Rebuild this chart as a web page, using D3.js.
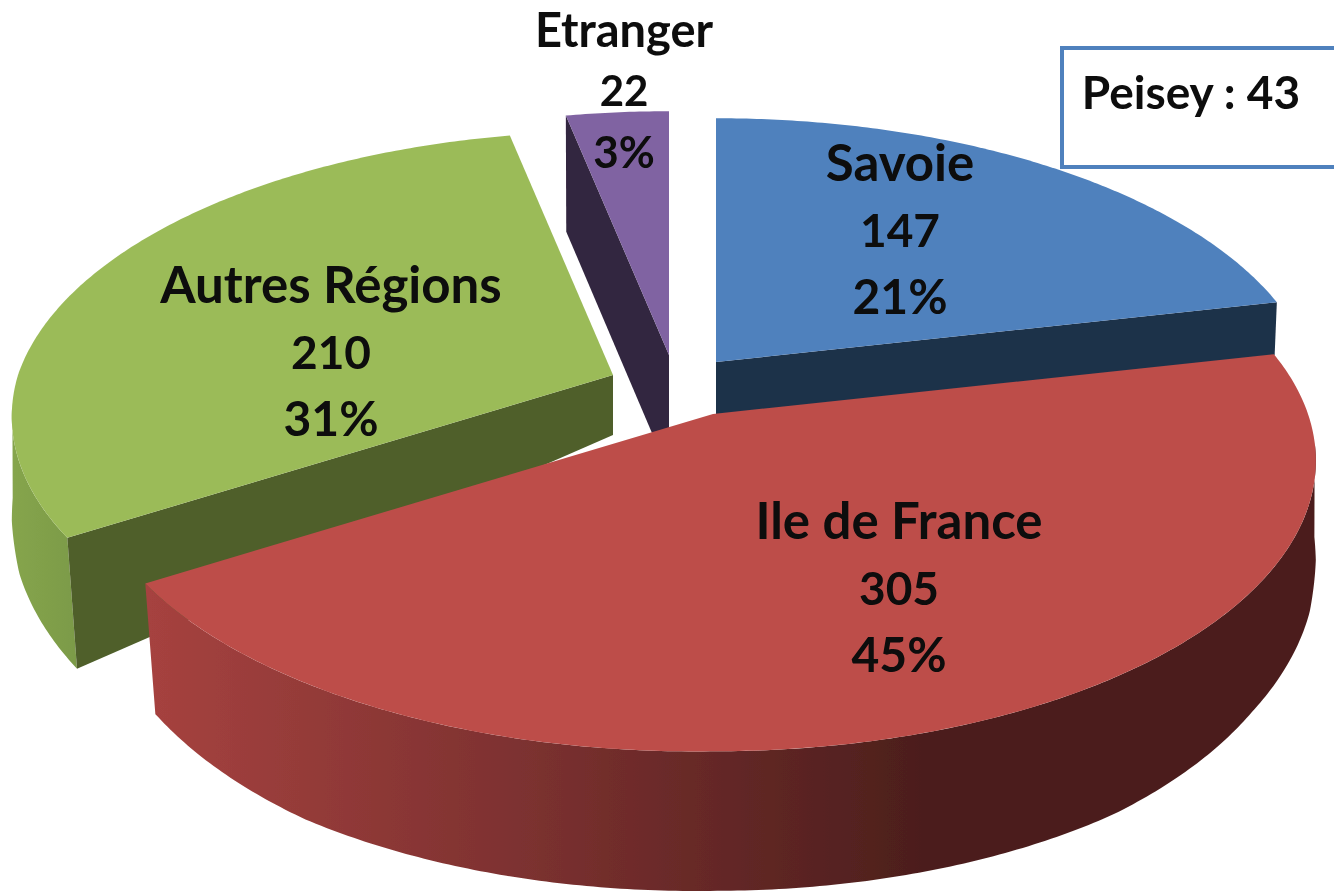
<!DOCTYPE html>
<html>
<head>
<meta charset="utf-8">
<script src="https://cdn.jsdelivr.net/npm/d3@7"></script>
<style>
	html, body { margin: 0; padding: 0; background: #fff; overflow: hidden; }
	text { font-family: Lato, "Open Sans", sans-serif; font-weight: 700; fill: #0a0a0a; text-anchor: middle; }
</style>
</head>
<body>
<script>
// values
var categories = ["Savoie", "Ile de France", "Autres Régions", "Etranger"];
var values = [147, 305, 210, 22];
var calloutName = "Peisey";
var calloutValue = 43;

var w = 1334, h = 894;

// tilted disc: radii and perspective strength, fitted to the picture
var rx = 595, ry = 283, persp = 0.161;

// layout, same order as categories
var apexes = [[716, 362], [713, 414], [613, 375], [669, 355]];
var apexDepth = [54, 0, 60, 118];
var labelPos = [[900, 163], [899, 521], [331, 285], [624, 30]];
var nameSize = [51, 51, 51, 47];
var valueSize = [46, 46, 46, 42];
var pctSize = [48, 48, 48, 44];
var lineGap = [67, 67, 67, 61];
var topColors = ["#4f81bd", "#bd4e4a", "#9bbb59", "#8064a2"];
var wallColors = ["#1f3249", "#4b1e1c", "#4f5f2b", "#33263f"];

// how far the bottom ring sits below the top ring, by front/back position
var rimDepth = d3.scaleLinear()
	.domain([-1, -0.8, -0.537, -0.26, -0.087, 0.225, 0.978])
	.range([148, 146, 134, 122, 92, 52, 115]);

// the bottom ring is a bit narrower than the top ring
var rimShrink = d3.scaleLinear()
	.domain([-1, -0.537, -0.15, 0.225])
	.range([0.975, 0.982, 1, 0.996])
	.clamp(true);

var pct = d3.format(".0%");
var total = d3.sum(values);

var arcs = d3.pie().sort(null).startAngle(0).endAngle(2 * Math.PI)(values);

// the picture's disc is not a clean ellipse around the red/green corner
var redBulge = d3.scaleLinear()
	.domain([Math.PI, arcs[1].endAngle])
	.range([1, 1.03])
	.clamp(true);

var greenBulge = d3.scaleLinear()
	.domain([arcs[2].startAngle, 1.5 * Math.PI])
	.range([0.99, 1])
	.clamp(true);

function bulge(i, angle) {

	if (i == 1) return redBulge(angle);
	if (i == 2) return greenBulge(angle);

	return 1;

}

function project(i, angle) { //offset from the apex on the top ring

	var u = Math.sin(angle), v = Math.cos(angle);
	var s = bulge(i, angle) / (1 + persp * v);

	return [rx * u * s, -ry * v * s];

}

function topPoint(i, angle) {

	var p = project(i, angle);

	return [apexes[i][0] + p[0], apexes[i][1] + p[1]];

}

function bottomPoint(i, angle) {

	var p = project(i, angle);
	var v = Math.cos(angle);
	var f = rimShrink(v);

	return [apexes[i][0] + p[0] * f, apexes[i][1] + p[1] * f + rimDepth(v)];

}

function sweep(a, b) {

	var n = Math.ceil(Math.abs(b - a) / 0.01);

	return d3.range(n + 1).map(function(k) { return a + (b - a) * k / n; });

}

var line = d3.line();

var svg = d3.select("body")
	.append("svg")
	.attr("width", w)
	.attr("height", h);

var defs = svg.append("defs");

var soft = defs.append("filter").attr("id", "soft");
soft.append("feGaussianBlur").attr("stdDeviation", 0.6);

var redSide = defs.append("linearGradient")
	.attr("id", "redSide")
	.attr("gradientUnits", "userSpaceOnUse")
	.attr("x1", 148).attr("x2", 930)
	.attr("y1", 0).attr("y2", 0);

redSide.append("stop").attr("offset", 0).attr("stop-color", "#a6423f");
redSide.append("stop").attr("offset", 0.45).attr("stop-color", "#7f3231");
redSide.append("stop").attr("offset", 1).attr("stop-color", "#4b1e1c");

var greenSide = defs.append("linearGradient")
	.attr("id", "greenSide")
	.attr("gradientUnits", "userSpaceOnUse")
	.attr("x1", 10).attr("x2", 80)
	.attr("y1", 0).attr("y2", 0);

greenSide.append("stop").attr("offset", 0).attr("stop-color", "#86a54d");
greenSide.append("stop").attr("offset", 1).attr("stop-color", "#7b9a47");

var root = svg.append("g").attr("filter", "url(#soft)");

function drawRimSide(i, a, b, fill) {

	var angles = sweep(a, b);
	var pts = angles.map(function(t) { return topPoint(i, t); })
		.concat(angles.slice().reverse().map(function(t) { return bottomPoint(i, t); }));

	root.append("path")
		.attr("d", line(pts) + "Z")
		.attr("fill", fill);

}

function drawWall(i, angle) {

	var apex = apexes[i];
	var pts = [apex, topPoint(i, angle), bottomPoint(i, angle), [apex[0], apex[1] + apexDepth[i]]];

	root.append("path")
		.attr("d", line(pts) + "Z")
		.attr("fill", wallColors[i]);

}

function drawTop(i) {

	var pts = sweep(arcs[i].startAngle, arcs[i].endAngle).map(function(t) { return topPoint(i, t); });
	pts.unshift(apexes[i]);

	root.append("path")
		.attr("d", line(pts) + "Z")
		.attr("fill", topColors[i]);

}

// painter's order: back slices first, the big red slice last
// rim sides stop just past the silhouette tangent so the outline stays smooth
drawRimSide(2, arcs[2].startAngle, 1.5 * Math.PI - 0.1, "url(#greenSide)");
drawWall(2, arcs[2].startAngle);
drawTop(2);

drawWall(3, arcs[3].startAngle);
drawTop(3);

drawWall(0, arcs[0].endAngle);
drawTop(0);

drawRimSide(1, 0.5 * Math.PI + 0.1, arcs[1].endAngle, "url(#redSide)");
drawTop(1);

// callout box sits on top of the pie
root.append("rect")
	.attr("x", 1062)
	.attr("y", 48)
	.attr("width", 290)
	.attr("height", 119)
	.attr("fill", "#fff")
	.attr("stroke", "#4f81bd")
	.attr("stroke-width", 4);

root.append("text")
	.attr("x", 1191)
	.attr("y", 92)
	.attr("dy", "0.36em")
	.attr("font-size", 46)
	.text(calloutName + " : " + calloutValue);

categories.forEach(function(name, i) {

	var lines = [name, values[i], pct(values[i] / total)];
	var sizes = [nameSize[i], valueSize[i], pctSize[i]];

	root.selectAll("text.label" + i)
		.data(lines)
		.enter()
		.append("text")
		.attr("class", "label" + i)
		.attr("x", labelPos[i][0])
		.attr("y", function(d, k) { return labelPos[i][1] + k * lineGap[i]; })
		.attr("dy", "0.36em")
		.attr("font-size", function(d, k) { return sizes[k]; })
		.text(function(d) { return d; });

});
</script>
</body>
</html>
